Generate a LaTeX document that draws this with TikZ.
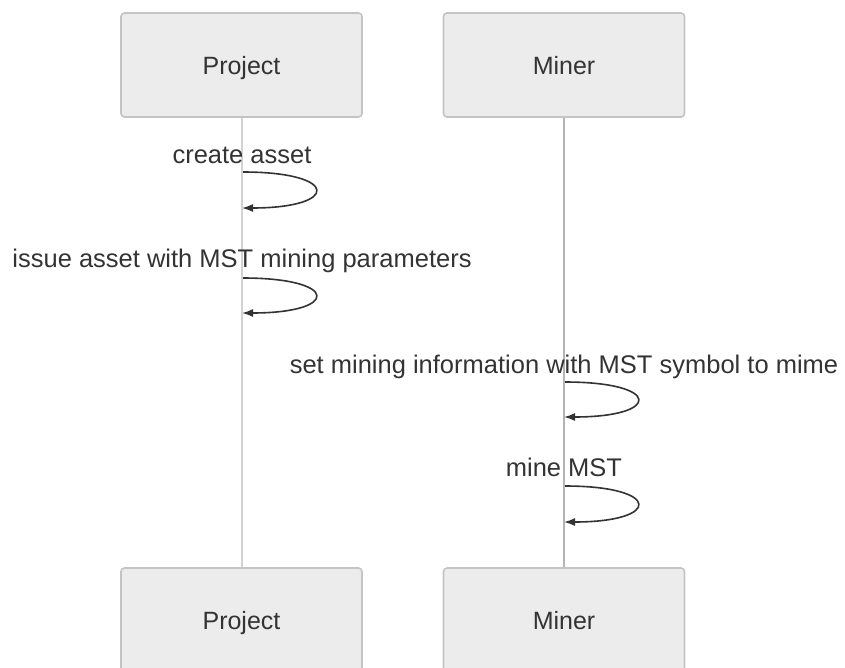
\documentclass[tikz,border=0pt]{standalone}
\usepackage{fontspec}
\setmainfont{Liberation Sans}
\usetikzlibrary{arrows.meta}
\definecolor{boxfill}{HTML}{ECECEC}
\definecolor{boxline}{HTML}{C4C4C4}
\definecolor{txt}{HTML}{333333}
\definecolor{lifeA}{HTML}{D2D2D2}
\definecolor{lifeB}{HTML}{B4B4B4}
\tikzset{
  actor/.style={draw=boxline, line width=1.6pt, fill=boxfill, rounded corners=3.5pt,
    minimum width=241pt, minimum height=104pt, inner sep=0pt,
    font=\fontsize{25}{30}\selectfont, text=txt, text height=18pt, text depth=0pt},
  msg/.style={font=\fontsize{25.5}{30}\selectfont, text=txt, anchor=base, inner sep=0pt},
  selfloop/.style={draw=txt, line width=1.6pt, -{Latex[length=11pt,width=8pt]}},
}
\begin{document}
\begin{tikzpicture}[x=1pt,y=-1pt]
\useasboundingbox (0,0) rectangle (845,667);
\clip (0,0) rectangle (845,667);
% actors
\node[actor] (ptop) at (241.5,65) {Project};
\node[actor] (mtop) at (564,65) {Miner};
\node[actor] (pbot) at (241.5,620) {Project};
\node[actor] (mbot) at (564,620) {Miner};
% lifelines
\draw[lifeA, line width=2pt] (ptop.south) -- (pbot.north);
\draw[lifeB, line width=1.8pt] (mtop.south) -- (mbot.north);
% messages
\node[msg] (l1) at (242,163) {create asset};
\coordinate (a1) at (243,172); \coordinate (b1) at (242,208);
\draw[selfloop] (a1) .. controls (340,172) and (340,208) .. (b1);
\node[msg] (l2) at (242,267) {issue asset with MST mining parameters};
\coordinate (a2) at (243,278); \coordinate (b2) at (242,313);
\draw[selfloop] (a2) .. controls (340,278) and (340,313) .. (b2);
\node[msg] (l3) at (564,373) {set mining information with MST symbol to mime};
\coordinate (a3) at (565,382); \coordinate (b3) at (564,417);
\draw[selfloop] (a3) .. controls (662,382) and (662,417) .. (b3);
\node[msg] (l4) at (564,476) {mine MST};
\coordinate (a4) at (565,486); \coordinate (b4) at (564,522);
\draw[selfloop] (a4) .. controls (662,486) and (662,522) .. (b4);
\end{tikzpicture}
\end{document}
